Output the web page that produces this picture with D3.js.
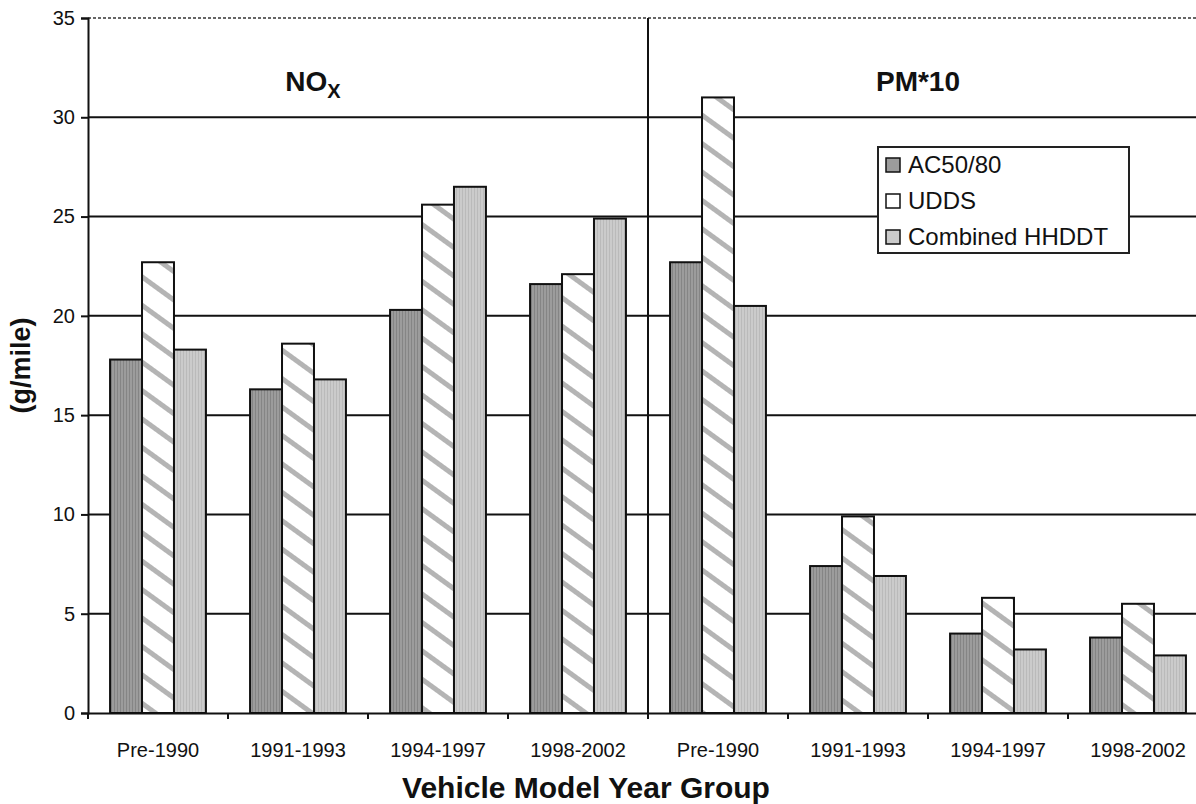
<!DOCTYPE html>
<html><head><meta charset="utf-8">
<script src="https://cdn.jsdelivr.net/npm/d3@7"></script>
<style>body{margin:0;background:#fff}svg{display:block;font-family:Arial,"Liberation Sans",sans-serif}</style>
</head><body><svg id="c" width="1196" height="804"></svg>
<script>
const categories = ["Pre-1990","1991-1993","1994-1997","1998-2002","Pre-1990","1991-1993","1994-1997","1998-2002"];
const panels = ["NOx","PM*10"];
const series = ["AC50/80","UDDS","Combined HHDDT"];
const ac5080 = [17.8,16.3,20.3,21.6,22.7,7.4,4.0,3.8];
const udds   = [22.7,18.6,25.6,22.1,31.0,9.9,5.8,5.5];
const hhddt  = [18.3,16.8,26.5,24.9,20.5,6.9,3.2,2.9];
const yTicks = [0,5,10,15,20,25,30,35];

const values = [ac5080, udds, hhddt];
const svg = d3.select("#c");
const W = 1196;
const m = {l:88, t:18, b:713};
const x0 = d3.scaleBand().domain(d3.range(categories.length)).range([m.l, m.l + 140*categories.length]).padding(0);
const x1 = d3.scaleBand().domain(series).range([0, x0.bandwidth()]).paddingInner(0).paddingOuter(0.69);
const y = d3.scaleLinear().domain([0,35]).range([m.b, m.t]);

const defs = svg.append("defs");
const pA = defs.append("pattern").attr("id","pA").attr("patternUnits","userSpaceOnUse").attr("width",3).attr("height",4);
pA.append("rect").attr("width",3).attr("height",4).attr("fill","#9c9c9c");
pA.append("rect").attr("width",1).attr("height",4).attr("fill","#858585");
const pU = defs.append("pattern").attr("id","pU").attr("patternUnits","userSpaceOnUse").attr("width",10).attr("height",23).attr("patternTransform","rotate(36)");
pU.append("rect").attr("width",10).attr("height",23).attr("fill","#fff");
pU.append("rect").attr("y",0).attr("width",10).attr("height",5).attr("fill","#b4b4b4");
const pH = defs.append("pattern").attr("id","pH").attr("patternUnits","userSpaceOnUse").attr("width",3).attr("height",4);
pH.append("rect").attr("width",3).attr("height",4).attr("fill","#cbcbcb");
pH.append("rect").attr("width",1).attr("height",4).attr("fill","#bababa");
const fills = {"AC50/80":"url(#pA)","UDDS":"url(#pU)","Combined HHDDT":"url(#pH)"};
const swatch = {"AC50/80":"#9c9c9c","UDDS":"#ffffff","Combined HHDDT":"#cbcbcb"};

svg.append("g").selectAll("line").data(yTicks.filter(d=>d>0 && d<35)).join("line")
  .attr("x1",m.l).attr("x2",W).attr("y1",d=>y(d)).attr("y2",d=>y(d))
  .attr("stroke","#111").attr("stroke-width",2);
svg.append("line").attr("x1",m.l).attr("x2",W).attr("y1",y(35)).attr("y2",y(35))
  .attr("stroke","#666").attr("stroke-width",2).attr("stroke-dasharray","3,2");

const rows = [];
categories.forEach((c,i)=>series.forEach((s,j)=>rows.push({i,s,v:values[j][i]})));
svg.append("g").selectAll("rect").data(rows).join("rect")
  .attr("x",d=>x0(d.i)+x1(d.s)).attr("width",x1.bandwidth())
  .attr("y",d=>y(d.v)).attr("height",d=>y(0)-y(d.v))
  .attr("fill",d=>fills[d.s]).attr("stroke","#111").attr("stroke-width",2);

svg.append("line").attr("x1",x0(4)).attr("x2",x0(4)).attr("y1",y(35)).attr("y2",y(0)+6)
  .attr("stroke","#111").attr("stroke-width",2);

const ya = svg.append("g").attr("transform",`translate(${m.l},0)`)
  .call(d3.axisLeft(y).tickValues(yTicks).tickSize(7).tickPadding(6));
ya.select(".domain").attr("stroke","#111").attr("stroke-width",2);
ya.selectAll(".tick line").attr("stroke","#111").attr("stroke-width",2);
ya.selectAll("text").attr("font-size",20).attr("fill","#111").attr("font-family","Arial, 'Liberation Sans', sans-serif");

const xa = svg.append("g").attr("transform",`translate(0,${y(0)})`)
  .call(d3.axisBottom(x0).tickFormat(i=>categories[i]).tickSize(0).tickPadding(30));
xa.select(".domain").attr("stroke","#111").attr("stroke-width",2);
xa.selectAll("text").attr("font-size",20).attr("fill","#111").attr("font-family","Arial, 'Liberation Sans', sans-serif");
svg.append("g").selectAll("line").data(d3.range(categories.length+1)).join("line")
  .attr("x1",i=>m.l+i*x0.step()).attr("x2",i=>m.l+i*x0.step())
  .attr("y1",y(0)).attr("y2",y(0)+6).attr("stroke","#111").attr("stroke-width",2);

const t1 = svg.append("text").attr("x",313).attr("y",y(35)+73)
  .attr("text-anchor","middle").attr("font-size",28).attr("font-weight","bold").attr("fill","#111");
t1.append("tspan").text("NO");
t1.append("tspan").text("X").attr("font-size",20).attr("dy",7);
svg.append("text").attr("x",(x0(4)+x0(7)+x0.step())/2-10).attr("y",y(35)+73)
  .attr("text-anchor","middle").attr("font-size",28).attr("font-weight","bold").attr("fill","#111").text(panels[1]);

svg.append("text").attr("transform",`translate(30,${(y(0)+y(35))/2}) rotate(-90)`)
  .attr("text-anchor","middle").attr("font-size",27).attr("font-weight","bold").attr("fill","#111").text("(g/mile)");
svg.append("text").attr("x",586).attr("y",798).attr("text-anchor","middle")
  .attr("font-size",30).attr("font-weight","bold").attr("fill","#111").text("Vehicle Model Year Group");

const lg = svg.append("g").attr("transform","translate(878,147)");
lg.append("rect").attr("width",251).attr("height",106).attr("fill","#fff").attr("stroke","#222").attr("stroke-width",2);
const li = lg.selectAll("g").data(series).join("g").attr("transform",(d,i)=>`translate(8,${18+i*36})`);
li.append("rect").attr("y",-7).attr("width",14).attr("height",14).attr("fill",d=>swatch[d]).attr("stroke","#111").attr("stroke-width",1.5);
li.append("text").attr("x",22).attr("y",8).attr("font-size",24).attr("fill","#111").text(d=>d);
</script></body></html>
